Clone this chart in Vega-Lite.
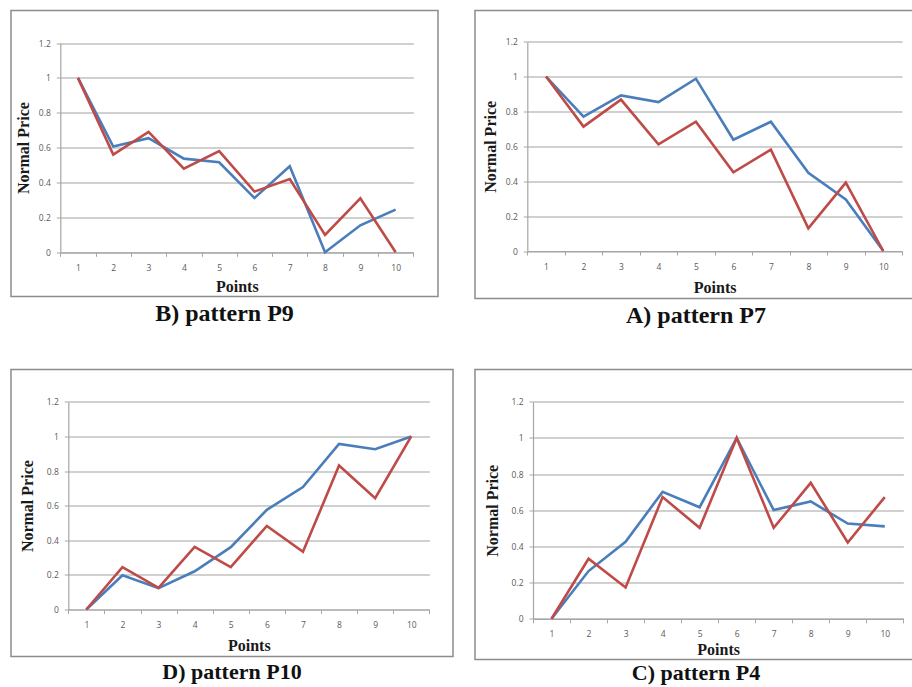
{
  "$schema": "https://vega.github.io/schema/vega-lite/v6.json",
  "background": "white",
  "padding": {"left": 10, "top": 9.5, "right": 0, "bottom": 0},
  "config": {
    "view": {"stroke": "#8c8c8c", "strokeWidth": 1.5},
    "axis": {
      "labelFont": "Open Sans", "labelFontSize": 8.5, "labelColor": "#595959",
      "titleFont": "Liberation Serif", "titleFontWeight": "bold", "titleFontSize": 16, "titleColor": "#1a1a1a",
      "domainColor": "#a6a6a6", "domainWidth": 1.2, "tickColor": "#a6a6a6", "tickSize": 4, "tickWidth": 1,
      "gridColor": "#c0c0c0", "gridWidth": 1.6
    },
    "title": {"font": "Liberation Serif", "fontWeight": "bold", "fontSize": 24, "color": "#111111", "orient": "bottom", "anchor": "middle", "offset": 5},
    "line": {"strokeWidth": 2.6}
  },
  "data": {"values": [
    {"panel": "B", "point": 1, "series": "blue", "value": 1.0},
    {"panel": "B", "point": 2, "series": "blue", "value": 0.606},
    {"panel": "B", "point": 3, "series": "blue", "value": 0.654},
    {"panel": "B", "point": 4, "series": "blue", "value": 0.537},
    {"panel": "B", "point": 5, "series": "blue", "value": 0.516},
    {"panel": "B", "point": 6, "series": "blue", "value": 0.311},
    {"panel": "B", "point": 7, "series": "blue", "value": 0.493},
    {"panel": "B", "point": 8, "series": "blue", "value": 0.0},
    {"panel": "B", "point": 9, "series": "blue", "value": 0.155},
    {"panel": "B", "point": 10, "series": "blue", "value": 0.245},
    {"panel": "B", "point": 1, "series": "red", "value": 1.0},
    {"panel": "B", "point": 2, "series": "red", "value": 0.56},
    {"panel": "B", "point": 3, "series": "red", "value": 0.69},
    {"panel": "B", "point": 4, "series": "red", "value": 0.48},
    {"panel": "B", "point": 5, "series": "red", "value": 0.58},
    {"panel": "B", "point": 6, "series": "red", "value": 0.348},
    {"panel": "B", "point": 7, "series": "red", "value": 0.42},
    {"panel": "B", "point": 8, "series": "red", "value": 0.1},
    {"panel": "B", "point": 9, "series": "red", "value": 0.31},
    {"panel": "B", "point": 10, "series": "red", "value": 0.0},
    {"panel": "A", "point": 1, "series": "blue", "value": 1.0},
    {"panel": "A", "point": 2, "series": "blue", "value": 0.77},
    {"panel": "A", "point": 3, "series": "blue", "value": 0.892},
    {"panel": "A", "point": 4, "series": "blue", "value": 0.854},
    {"panel": "A", "point": 5, "series": "blue", "value": 0.988},
    {"panel": "A", "point": 6, "series": "blue", "value": 0.638},
    {"panel": "A", "point": 7, "series": "blue", "value": 0.741},
    {"panel": "A", "point": 8, "series": "blue", "value": 0.449},
    {"panel": "A", "point": 9, "series": "blue", "value": 0.296},
    {"panel": "A", "point": 10, "series": "blue", "value": 0.0},
    {"panel": "A", "point": 1, "series": "red", "value": 1.0},
    {"panel": "A", "point": 2, "series": "red", "value": 0.713},
    {"panel": "A", "point": 3, "series": "red", "value": 0.868},
    {"panel": "A", "point": 4, "series": "red", "value": 0.611},
    {"panel": "A", "point": 5, "series": "red", "value": 0.741},
    {"panel": "A", "point": 6, "series": "red", "value": 0.451},
    {"panel": "A", "point": 7, "series": "red", "value": 0.581},
    {"panel": "A", "point": 8, "series": "red", "value": 0.13},
    {"panel": "A", "point": 9, "series": "red", "value": 0.392},
    {"panel": "A", "point": 10, "series": "red", "value": 0.0},
    {"panel": "D", "point": 1, "series": "blue", "value": 0.0},
    {"panel": "D", "point": 2, "series": "blue", "value": 0.198},
    {"panel": "D", "point": 3, "series": "blue", "value": 0.123},
    {"panel": "D", "point": 4, "series": "blue", "value": 0.221},
    {"panel": "D", "point": 5, "series": "blue", "value": 0.36},
    {"panel": "D", "point": 6, "series": "blue", "value": 0.576},
    {"panel": "D", "point": 7, "series": "blue", "value": 0.707},
    {"panel": "D", "point": 8, "series": "blue", "value": 0.957},
    {"panel": "D", "point": 9, "series": "blue", "value": 0.926},
    {"panel": "D", "point": 10, "series": "blue", "value": 1.0},
    {"panel": "D", "point": 1, "series": "red", "value": 0.0},
    {"panel": "D", "point": 2, "series": "red", "value": 0.245},
    {"panel": "D", "point": 3, "series": "red", "value": 0.125},
    {"panel": "D", "point": 4, "series": "red", "value": 0.362},
    {"panel": "D", "point": 5, "series": "red", "value": 0.245},
    {"panel": "D", "point": 6, "series": "red", "value": 0.483},
    {"panel": "D", "point": 7, "series": "red", "value": 0.333},
    {"panel": "D", "point": 8, "series": "red", "value": 0.832},
    {"panel": "D", "point": 9, "series": "red", "value": 0.643},
    {"panel": "D", "point": 10, "series": "red", "value": 1.0},
    {"panel": "C", "point": 1, "series": "blue", "value": 0.0},
    {"panel": "C", "point": 2, "series": "blue", "value": 0.264},
    {"panel": "C", "point": 3, "series": "blue", "value": 0.426},
    {"panel": "C", "point": 4, "series": "blue", "value": 0.702},
    {"panel": "C", "point": 5, "series": "blue", "value": 0.617},
    {"panel": "C", "point": 6, "series": "blue", "value": 1.0},
    {"panel": "C", "point": 7, "series": "blue", "value": 0.601},
    {"panel": "C", "point": 8, "series": "blue", "value": 0.649},
    {"panel": "C", "point": 9, "series": "blue", "value": 0.527},
    {"panel": "C", "point": 10, "series": "blue", "value": 0.511},
    {"panel": "C", "point": 1, "series": "red", "value": 0.0},
    {"panel": "C", "point": 2, "series": "red", "value": 0.332},
    {"panel": "C", "point": 3, "series": "red", "value": 0.173},
    {"panel": "C", "point": 4, "series": "red", "value": 0.673},
    {"panel": "C", "point": 5, "series": "red", "value": 0.503},
    {"panel": "C", "point": 6, "series": "red", "value": 1.0},
    {"panel": "C", "point": 7, "series": "red", "value": 0.503},
    {"panel": "C", "point": 8, "series": "red", "value": 0.752},
    {"panel": "C", "point": 9, "series": "red", "value": 0.422},
    {"panel": "C", "point": 10, "series": "red", "value": 0.673}
  ]},
  "vconcat": [
    {
      "hconcat": [
        {
          "width": 427, "height": 286,
          "title": {"text": "B) pattern P9"},
          "transform": [{"filter": "datum.panel == 'B'"}],
          "mark": "line",
          "encoding": {
            "x": {"field": "point", "type": "ordinal", "scale": {"type": "band", "range": [49.3, 402.3], "paddingInner": 0, "paddingOuter": 0},
                  "axis": {"title": "Points", "offset": -44.2, "labelAngle": 0, "tickBand": "extent", "labelPadding": 7, "titlePadding": 7}},
            "y": {"field": "value", "type": "quantitative", "scale": {"domain": [0, 1.2], "nice": false, "range": [241.8, 32.5]},
                  "axis": {"title": "Normal Price", "offset": -49.3, "values": [0, 0.2, 0.4, 0.6, 0.8, 1, 1.2], "format": ".1~f", "labelPadding": 6, "titlePadding": 7}},
            "color": {"field": "series", "type": "nominal", "scale": {"domain": ["blue", "red"], "range": ["#4A7EBB", "#BE4B48"]}, "legend": null}
          }
        },
        {
          "width": 442, "height": 288,
          "title": {"text": "A) pattern P7"},
          "transform": [{"filter": "datum.panel == 'A'"}],
          "mark": "line",
          "encoding": {
            "x": {"field": "point", "type": "ordinal", "scale": {"type": "band", "range": [52.3, 427], "paddingInner": 0, "paddingOuter": 0},
                  "axis": {"title": "Points", "offset": -47.5, "labelAngle": 0, "tickBand": "extent", "labelPadding": 7, "titlePadding": 9}},
            "y": {"field": "value", "type": "quantitative", "scale": {"domain": [0, 1.2], "nice": false, "range": [240.5, 31.2]},
                  "axis": {"title": "Normal Price", "offset": -52.3, "values": [0, 0.2, 0.4, 0.6, 0.8, 1, 1.2], "format": ".1~f", "labelPadding": 6, "titlePadding": 7}},
            "color": {"field": "series", "type": "nominal", "scale": {"domain": ["blue", "red"], "range": ["#4A7EBB", "#BE4B48"]}, "legend": null}
          }
        }
      ],
      "spacing": 35,
      "resolve": {"scale": {"x": "independent", "y": "independent"}}
    },
    {
      "hconcat": [
        {
          "width": 442, "height": 287,
          "title": {"text": "D) pattern P10", "fontSize": 22, "offset": 5},
          "transform": [{"filter": "datum.panel == 'D'"}],
          "mark": "line",
          "encoding": {
            "x": {"field": "point", "type": "ordinal", "scale": {"type": "band", "range": [57.3, 418.3], "paddingInner": 0, "paddingOuter": 0},
                  "axis": {"title": "Points", "offset": -47, "labelAngle": 0, "tickBand": "extent", "labelPadding": 7, "titlePadding": 8}},
            "y": {"field": "value", "type": "quantitative", "scale": {"domain": [0, 1.2], "nice": false, "range": [240, 32.3]},
                  "axis": {"title": "Normal Price", "offset": -57.3, "values": [0, 0.2, 0.4, 0.6, 0.8, 1, 1.2], "format": ".1~f", "labelPadding": 6, "titlePadding": 11}},
            "color": {"field": "series", "type": "nominal", "scale": {"domain": ["blue", "red"], "range": ["#4A7EBB", "#BE4B48"]}, "legend": null}
          }
        },
        {
          "width": 442, "height": 290,
          "title": {"text": "C) pattern P4", "fontSize": 22, "offset": 3},
          "transform": [{"filter": "datum.panel == 'C'"}],
          "mark": "line",
          "encoding": {
            "x": {"field": "point", "type": "ordinal", "scale": {"type": "band", "range": [58, 428.3], "paddingInner": 0, "paddingOuter": 0},
                  "axis": {"title": "Points", "offset": -40.7, "labelAngle": 0, "tickBand": "extent", "labelPadding": 7, "titlePadding": 3}},
            "y": {"field": "value", "type": "quantitative", "scale": {"domain": [0, 1.2], "nice": false, "range": [249.3, 32.3]},
                  "axis": {"title": "Normal Price", "offset": -58, "values": [0, 0.2, 0.4, 0.6, 0.8, 1, 1.2], "format": ".1~f", "labelPadding": 6, "titlePadding": 11}},
            "color": {"field": "series", "type": "nominal", "scale": {"domain": ["blue", "red"], "range": ["#4A7EBB", "#BE4B48"]}, "legend": null}
          }
        }
      ],
      "spacing": 20,
      "resolve": {"scale": {"x": "independent", "y": "independent"}}
    }
  ],
  "spacing": 40,
  "resolve": {"scale": {"x": "independent", "y": "independent"}}
}
